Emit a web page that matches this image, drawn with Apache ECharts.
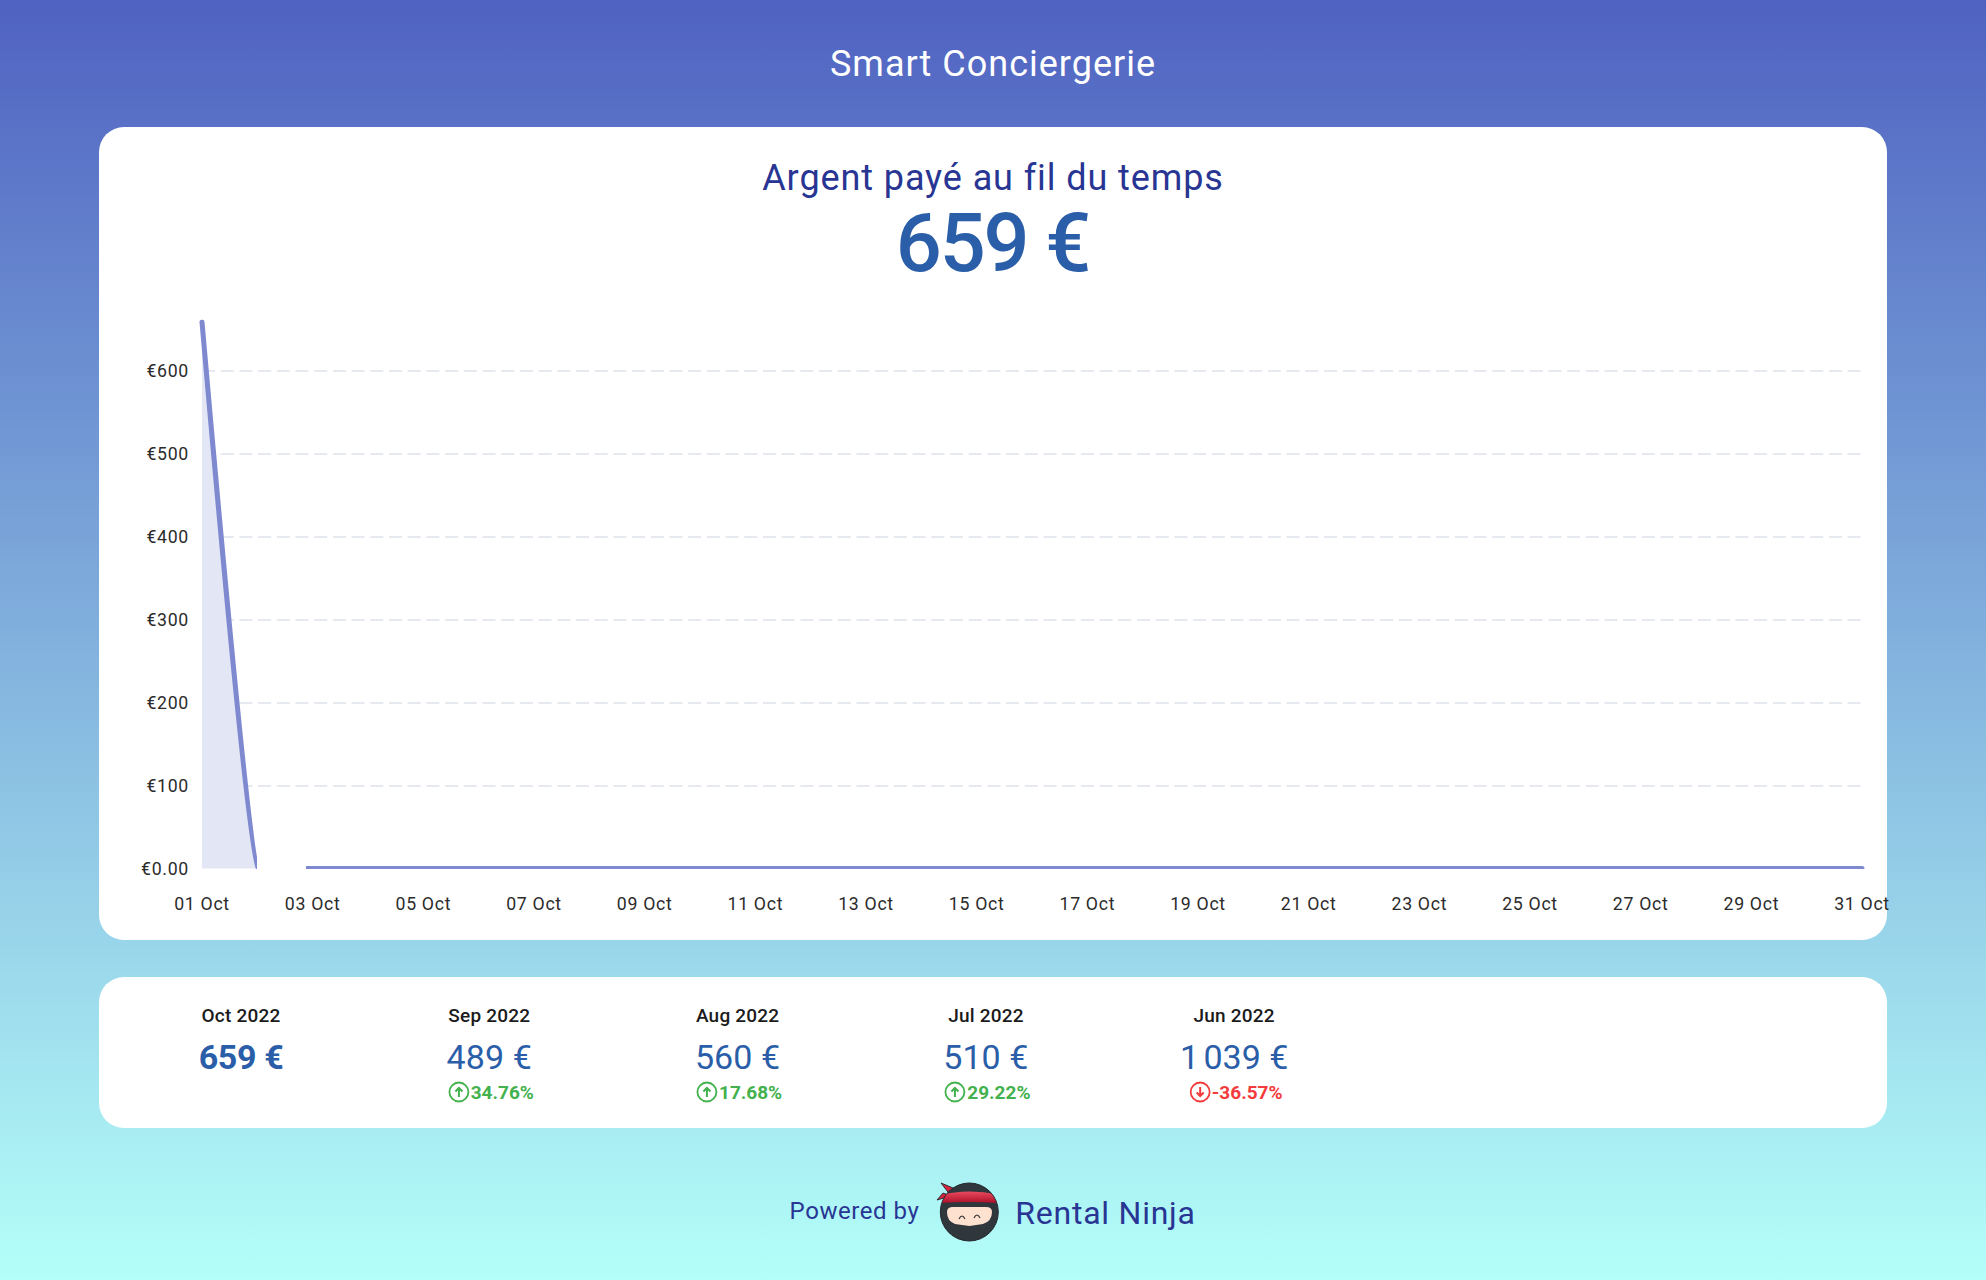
<!DOCTYPE html>
<html lang="fr">
<head>
<meta charset="utf-8">
<title>Smart Conciergerie</title>
<script src="https://cdn.jsdelivr.net/npm/echarts@6/dist/echarts.min.js"></script>
<style>
  html,body{margin:0;padding:0}
  body{width:1986px;height:1280px;position:relative;overflow:hidden;font-family:Roboto,sans-serif;
       font-variant-ligatures:none;
       background:linear-gradient(180deg,#4f62c1 0%,#b4fff9 100%)}
  .card{position:absolute;left:99px;width:1788px;background:#fff;border-radius:25px}
  #c1{top:127px;height:813px}
  #c2{top:977px;height:151px}
  .t{position:absolute;white-space:nowrap;line-height:1;transform:translateX(-50%)}
  #chart{position:absolute;left:0;top:0;width:1986px;height:1280px}
  #chart text{letter-spacing:.7px}
  .pct{display:flex;align-items:center;font-weight:700}
  .pct svg{margin-right:1px}
</style>
</head>
<body>
<div class="card" id="c1"></div>
<div class="card" id="c2"></div>
<div class="t" style="left:993px;top:46px;font-size:36px;letter-spacing:1px;color:#fff">Smart Conciergerie</div>
<div class="t" style="left:993px;top:160px;font-size:36px;letter-spacing:.9px;color:#283593">Argent payé au fil du temps</div>
<div class="t" style="left:992.5px;top:203px;font-size:81px;font-weight:500;letter-spacing:-2.2px;color:#2a5ea8">659 €</div>
<div id="chart"></div>
<div id="stats"></div>
<div class="t" style="left:854.5px;top:1199px;font-size:24px;letter-spacing:.55px;color:#283593">Powered by</div>
<svg style="position:absolute;left:930px;top:1175px" width="80" height="75" viewBox="930 1175 80 75">
  <defs>
    <clipPath id="head"><circle cx="969.3" cy="1212" r="28.6"/></clipPath>
    <linearGradient id="band" x1="0" y1="0" x2="0" y2="1"><stop offset="0" stop-color="#ea4a5e"/><stop offset="1" stop-color="#ad1029"/></linearGradient>
  </defs>
  <path d="M951 1196 L941 1183 L953 1188 L957 1193 L947 1197 L937 1200 L943 1193 Z" fill="#d8233d" stroke="#2d3338" stroke-width="1"/>
  <circle cx="969.3" cy="1212" r="29" fill="#2f363c" stroke="#23282d" stroke-width="1"/>
  <g clip-path="url(#head)">
    <path d="M940 1195 Q969 1188 1000 1195 L1000 1203 Q969 1201 940 1203 Z" fill="url(#band)"/>
  </g>
  <path d="M947 1212 Q947 1207 953 1207 L986 1207 Q992 1207 992 1212 Q992 1221 983 1224 Q976 1225 969.5 1226 Q962 1225 955 1224 Q947 1221 947 1212 Z" fill="#ffe1d0"/>
  <path d="M959 1219 Q962 1213 965 1219 M974 1218 Q977 1212 980 1218" fill="none" stroke="#333" stroke-width="1.2"/>
</svg>
<div class="t" style="left:1105.5px;top:1197px;font-size:32px;letter-spacing:.75px;color:#283593">Rental Ninja</div>

<script>
// Daily amounts paid, 1-31 Oct 2022
const days = ['01 Oct','02 Oct','03 Oct','04 Oct','05 Oct','06 Oct','07 Oct','08 Oct','09 Oct','10 Oct','11 Oct','12 Oct','13 Oct','14 Oct','15 Oct','16 Oct','17 Oct','18 Oct','19 Oct','20 Oct','21 Oct','22 Oct','23 Oct','24 Oct','25 Oct','26 Oct','27 Oct','28 Oct','29 Oct','30 Oct','31 Oct'];
const paid = [659,0,0,0,0,0,0,0,0,0,0,0,0,0,0,0,0,0,0,0,0,0,0,0,0,0,0,0,0,0,0];

// Monthly summary
const months = ['Oct 2022','Sep 2022','Aug 2022','Jul 2022','Jun 2022'];
const totals = ['659\u00A0€','489\u00A0€','560\u00A0€','510\u00A0€','1\u202F039\u00A0€'];
const changes = [null,'34.76%','17.68%','29.22%','-36.57%'];

const stats = document.getElementById('stats');
months.forEach((m,i)=>{
  const cx = 241 + 248.3*i;
  let h = `<div class="t" style="left:${cx}px;top:1006px;font-size:19px;font-weight:500;letter-spacing:.2px;color:#1b1b1b">${m}</div>`;
  h += `<div class="t" style="left:${cx}px;top:1040px;font-size:34px;font-weight:${i===0?700:400};letter-spacing:${i===0?-.4:.1}px;color:#2a5ea8">${totals[i]}</div>`;
  if (changes[i]) {
    const neg = changes[i][0]==='-';
    const col = neg ? '#f33b3b' : '#43b14d';
    const arrow = neg ? 'M11 6V15M7.5 11.5L11 15L14.5 11.5' : 'M11 16V7M7.5 10.5L11 7L14.5 10.5';
    h += `<div class="t pct" style="left:${cx+1.5}px;top:1081px;font-size:19px;color:${col}"><svg width="22" height="22" viewBox="0 0 22 22"><circle cx="11" cy="11" r="9.5" fill="none" stroke="${col}" stroke-width="1.8"/><path d="${arrow}" fill="none" stroke="${col}" stroke-width="2"/></svg>${changes[i]}</div>`;
  }
  stats.insertAdjacentHTML('beforeend',h);
});

const chart = echarts.init(document.getElementById('chart'),null,{renderer:'svg'});
chart.setOption({
  animation:false,
  backgroundColor:'transparent',
  textStyle:{fontFamily:'Roboto'},
  grid:{left:202,right:124,top:322,bottom:411.5,containLabel:false},
  xAxis:{type:'value',min:0,max:days.length-1,interval:2,
    axisLine:{show:false},axisTick:{show:false},
    axisLabel:{margin:26,fontSize:17.7,color:'#2b2b2b',fontFamily:'Roboto',hideOverlap:false,formatter:v=>days[v]},
    splitLine:{show:false}},
  yAxis:{type:'value',min:0,max:659,interval:100,
    axisLine:{show:false},axisTick:{show:false},
    axisLabel:{margin:13,fontSize:17.7,color:'#2b2b2b',fontFamily:'Roboto',showMaxLabel:false,padding:[1,0,0,0],
      formatter:v=>v===0?'€0.00':'€'+v},
    splitLine:{show:true,showMinLine:false,showMaxLine:false,lineStyle:{color:'#e6e9f0',width:2,type:[13,5.7]}}},
  visualMap:{show:false,type:'piecewise',seriesIndex:0,dimension:0,
    pieces:[{lte:1,color:'#7e89cf'},{gt:1,lt:1.88,color:'rgba(126,137,207,0)'},{gte:1.88,color:'#7e89cf'}]},
  series:[{name:'Argent payé',type:'line',data:paid.map((v,i)=>[i,v]),smooth:0.08,showSymbol:false,symbol:'none',
    lineStyle:{width:5,cap:'round'},
    areaStyle:{color:'#e3e6f5',opacity:1},
    z:2}],
  graphic:[{type:'rect',shape:{x:200,y:869,width:1670,height:8},style:{fill:'#fff'},z:100}]
});
</script>
</body>
</html>
